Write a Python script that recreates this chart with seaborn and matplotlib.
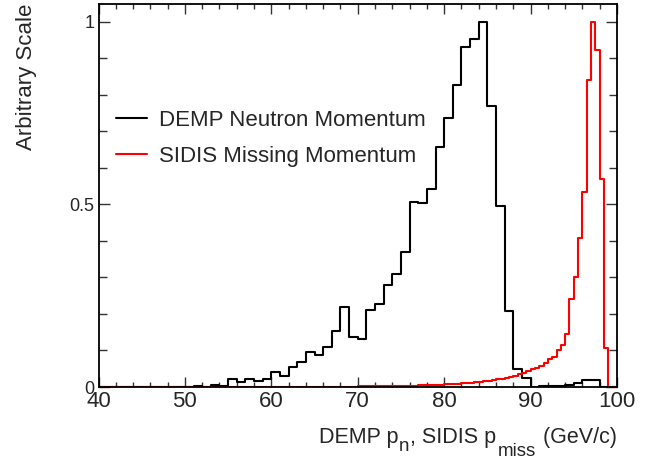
import numpy as np
import pandas as pd
import matplotlib
matplotlib.use("Agg")
import matplotlib.pyplot as plt
import seaborn as sns
from matplotlib.ticker import MultipleLocator, FixedLocator

sns.set_style("ticks")
plt.rcParams['font.family'] = ['Liberation Sans', 'DejaVu Sans']

# DEMP neutron momentum, 1 GeV bins from 40 to 100
demp_edges = [40 + 1.0 * i for i in range(61)]
demp_values = [0.0] * 11 + [
    0.003, 0.0, 0.006, 0.003, 0.021, 0.013, 0.023, 0.016, 0.022,          # 51-59
    0.042, 0.031, 0.054, 0.069, 0.097, 0.088, 0.109, 0.153, 0.220, 0.138,  # 60-69
    0.131, 0.211, 0.227, 0.279, 0.310, 0.369, 0.508, 0.503, 0.543, 0.658,  # 70-79
    0.738, 0.827, 0.932, 0.952, 1.000, 0.770, 0.496, 0.208, 0.050, 0.026,  # 80-89
    0.0, 0.004, 0.002, 0.003, 0.006, 0.012, 0.018, 0.020, 0.0, 0.0,        # 90-99
]

# SIDIS missing momentum, 0.5 GeV bins from 40 to 100
sidis_edges = [40 + 0.5 * i for i in range(121)]
sidis_values = [0.0] * 40 + [0.0005] * 10 + [0.001] * 10 + [
    0.0015, 0.0015, 0.002, 0.002, 0.002, 0.0025, 0.0025, 0.003, 0.003, 0.003,
    0.0035, 0.0035, 0.004, 0.004, 0.0045, 0.005, 0.005, 0.0055, 0.006, 0.0065,
    0.007, 0.0075, 0.008, 0.009, 0.010, 0.011, 0.012, 0.013, 0.014, 0.016,
    0.017, 0.019, 0.021, 0.023, 0.025, 0.028, 0.031, 0.035, 0.039, 0.044,
    0.048, 0.052, 0.057, 0.065, 0.077, 0.083, 0.100, 0.114, 0.145, 0.241,
    0.300, 0.409, 0.533, 0.841, 1.000, 0.923, 0.569, 0.108, 0.0, 0.0,
]

labels = ["DEMP Neutron Momentum", "SIDIS Missing Momentum"]
colors = ["black", "#ff0000"]
y_ticks = [0, 0.5, 1]
y_ticklabels = ["0", "0.5", "1"]
ylabel = "Arbitrary Scale"
# x label pieces: (text, is_subscript)
xlabel_parts = [("DEMP p", False), ("n", True), (", SIDIS p", False),
                ("miss", True), (" (GeV/c)", False)]

W, H = 660, 459
fig = plt.figure(figsize=(W / 100, H / 100), dpi=100)
ax = fig.add_axes([98.5 / W, 1 - 387 / H, (617 - 98.5) / W, (387 - 4) / H])

de = np.array(demp_edges)
se = np.array(sidis_edges)
demp_df = pd.DataFrame({"p": (de[:-1] + de[1:]) / 2, "w": demp_values})
sidis_df = pd.DataFrame({"p": (se[:-1] + se[1:]) / 2, "w": sidis_values})

sns.histplot(data=demp_df, x="p", weights="w", bins=demp_edges, element="step",
             fill=False, color=colors[0], linewidth=1.5, ax=ax, label=labels[0])
sns.histplot(data=sidis_df, x="p", weights="w", bins=sidis_edges, element="step",
             fill=False, color=colors[1], linewidth=1.5, ax=ax, label=labels[1])

ax.set_xlim(40, 100)
ax.set_ylim(0, 1.049)

ax.xaxis.set_major_locator(MultipleLocator(10))
ax.xaxis.set_minor_locator(MultipleLocator(2))
ax.yaxis.set_major_locator(FixedLocator(y_ticks))
ax.yaxis.set_minor_locator(MultipleLocator(0.1))
ax.set_yticklabels(y_ticklabels)

ax.tick_params(which="both", direction="in", top=True, right=True, width=1, color="#333333")
ax.tick_params(axis="x", which="major", length=7.4, labelsize=16, pad=3)
ax.tick_params(axis="x", which="minor", length=3.8)
ax.tick_params(axis="y", which="major", length=7.9, labelsize=13, pad=3)
ax.tick_params(axis="y", which="minor", length=5.5)

for s in ax.spines.values():
    s.set_linewidth(1.3)
    s.set_color("black")

ax.set_xlabel("")
ax.set_ylabel(ylabel, fontsize=16, loc="top")
ax.yaxis.set_label_coords((37 - 98.5) / (617 - 98.5), 1.0)

# x label, ROOT style with lowered subscripts, right-aligned at the axis end
renderer = fig.canvas.get_renderer()
main_size, sub_size = 15.5, 13.5
texts = []
for txt, sub in xlabel_parts:
    t = fig.text(0, 0, txt, fontsize=sub_size if sub else main_size,
                 ha="left", va="baseline")
    texts.append((t, sub))
widths = [t.get_window_extent(renderer).width for t, _ in texts]
gaps = [0, 1, 0, 2, 1]
total = sum(widths) + sum(gaps)
x = 617 - total
sub_drops = [0, 7.4, 0, 12.4, 0]
for (t, sub), w, g, d in zip(texts, widths, gaps, sub_drops):
    x += g
    t.set_position((x / W, 1 - (443.3 + d) / H))
    x += w

leg = ax.legend(loc="upper left", bbox_to_anchor=(116 / W, 1 - 109.5 / H),
                bbox_transform=fig.transFigure, frameon=False, fontsize=16,
                handlelength=1.4, handletextpad=0.54, labelspacing=0.68, borderpad=0,
                borderaxespad=0)

fig.savefig("out.png", dpi=100)
